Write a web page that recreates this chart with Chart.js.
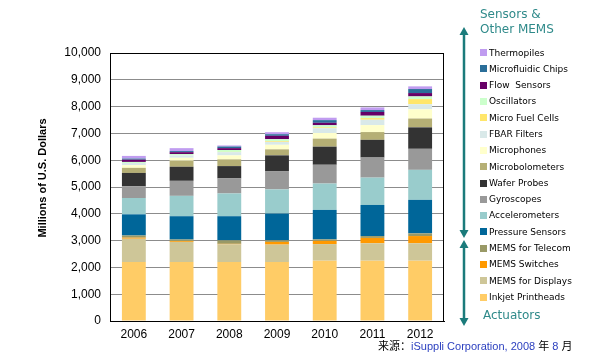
<!DOCTYPE html>
<html>
<head>
<meta charset="utf-8">
<script src="https://cdn.jsdelivr.net/npm/chart.js@4/dist/chart.umd.min.js"></script>
<style>
html,body{margin:0;padding:0;background:#fff;}
#c{display:block;}
</style>
</head>
<body>
<canvas id="c" width="597" height="357"></canvas>
<script>
// ---- data (bottom of stack first) ----
const years = ['2006','2007','2008','2009','2010','2011','2012'];
const yTicks = [0,1000,2000,3000,4000,5000,6000,7000,8000,9000,10000];
const yTitle = 'Millions of U.S. Dollars';

const inkjetPrintheads = [2200,2200,2200,2200,2250,2250,2250];
const memsDisplays     = [870,750,660,650,620,650,650];
const memsSwitches     = [40,30,20,100,120,200,270];
const memsTelecom      = [80,60,130,60,55,70,100];
const pressureSensors  = [790,870,900,1000,1100,1160,1250];
const accelerometers   = [610,760,850,900,985,1020,1120];
const gyroscopes       = [435,560,560,685,700,750,785];
const waferProbes      = [500,525,460,585,675,660,800];
const microbolometers  = [190,225,250,225,300,290,330];
const microphones      = [100,110,150,170,210,260,345];
const fbarFilters      = [80,90,120,110,180,200,190];
const microFuelCells   = [0,0,10,30,30,60,190];
const oscillators      = [40,50,70,70,80,90,100];
const flowSensors      = [85,70,70,125,90,140,125];
const microfluidicChips= [40,40,60,60,100,70,150];
const thermopiles      = [100,110,40,75,90,100,100];

const seriesNames = ['Inkjet Printheads','MEMS for Displays','MEMS Switches','MEMS for Telecom',
  'Pressure Sensors','Accelerometers','Gyroscopes','Wafer Probes','Microbolometers','Microphones',
  'FBAR Filters','Micro Fuel Cells','Oscillators','Flow  Sensors','Microfluidic Chips','Thermopiles'];
const seriesValues = [inkjetPrintheads,memsDisplays,memsSwitches,memsTelecom,pressureSensors,
  accelerometers,gyroscopes,waferProbes,microbolometers,microphones,fbarFilters,microFuelCells,
  oscillators,flowSensors,microfluidicChips,thermopiles];
const seriesColors = ['#FFCC66','#CEC698','#FF9900','#999966','#006699','#99CCCC','#999999',
  '#333333','#B5AF75','#FFFFCC','#D9E9E9','#FFE66B','#CCFFCC','#660066','#2A6E99','#C09CF0'];

const datasets = seriesNames.map((n,i)=>({
  label:n, data:seriesValues[i], backgroundColor:seriesColors[i], borderWidth:0,
  barPercentage:0.5, categoryPercentage:1.0, stack:'s'
}));

const TEAL = '#1B7B7B';

const decor = {
  id:'decor',
  afterDraw(chart){
    const ctx = chart.ctx, a = chart.chartArea;
    ctx.save();
    // plot border
    ctx.strokeStyle = '#000'; ctx.lineWidth = 1;
    ctx.strokeRect(Math.round(a.left)+0.5, Math.round(a.top)+0.5,
      Math.round(a.right-a.left)-1, Math.round(a.bottom-a.top));
    // y axis title
    ctx.save();
    ctx.translate(43, 178);
    ctx.rotate(-Math.PI/2);
    ctx.font = 'bold 11px "Liberation Sans"';
    ctx.fillStyle = '#000'; ctx.textAlign = 'center'; ctx.textBaseline = 'middle';
    ctx.fillText(yTitle, 0, 0);
    ctx.restore();
    // legend
    const ds = chart.data.datasets.slice().reverse();
    ctx.font = '9px "DejaVu Sans"';
    ctx.textBaseline = 'middle'; ctx.textAlign = 'left';
    ds.forEach((d,i)=>{
      const yc = 52.7 + i*16.29;
      ctx.fillStyle = d.backgroundColor;
      ctx.fillRect(480, Math.round(yc-3.5), 7, 7);
      ctx.fillStyle = '#000';
      ctx.fillText(d.label, 489, yc+0.5);
    });
    // group titles
    ctx.fillStyle = '#2F8A8A';
    ctx.font = '12px "DejaVu Sans"';
    ctx.fillText('Sensors &', 480, 15);
    ctx.fillText('Other MEMS', 480, 30);
    ctx.fillText('Actuators', 483, 316);
    // arrows
    ctx.strokeStyle = TEAL; ctx.fillStyle = TEAL; ctx.lineWidth = 2.5;
    const x = 464;
    ctx.beginPath(); ctx.moveTo(x,33); ctx.lineTo(x,233); ctx.stroke();
    ctx.beginPath(); ctx.moveTo(x,245); ctx.lineTo(x,320); ctx.stroke();
    function head(tipY, dir){
      ctx.beginPath();
      ctx.moveTo(x, tipY);
      ctx.lineTo(x-4.5, tipY - dir*8);
      ctx.lineTo(x+4.5, tipY - dir*8);
      ctx.closePath(); ctx.fill();
    }
    head(27,-1); head(238,1); head(240,-1); head(326,1);
    // source
    const parts = [
      ['来源：','#000','11px "Noto Sans CJK SC"'],
      ['iSuppli Corporation, 2008 ','#2B3FBF','11px "Liberation Sans"'],
      ['年','#000','11px "Noto Sans CJK SC"'],
      [' 8 ','#2B3FBF','11px "Liberation Sans"'],
      ['月','#000','11px "Noto Sans CJK SC"']
    ];
    let sx = 378;
    ctx.textBaseline = 'alphabetic';
    parts.forEach(p=>{
      ctx.font = p[2]; ctx.fillStyle = p[1];
      ctx.fillText(p[0], sx, 350);
      sx += ctx.measureText(p[0]).width;
    });
    ctx.restore();
  }
};

new Chart(document.getElementById('c'), {
  type:'bar',
  data:{labels:years, datasets},
  options:{
    responsive:false, animation:false, devicePixelRatio:1,
    layout:{padding:{top:53,right:153,left:0,bottom:0}},
    plugins:{legend:{display:false}, tooltip:{enabled:false}},
    scales:{
      x:{
        stacked:true,
        grid:{display:false, drawTicks:false},
        border:{display:true,color:'#000'},
        ticks:{color:'#000', font:{family:'"Liberation Sans"', size:12}, padding:6},
        afterFit(s){ s.height = 36; }
      },
      y:{
        stacked:true, min:0, max:10000,
        afterBuildTicks(s){ s.ticks = yTicks.map(v=>({value:v})); },
        grid:{color:'#8C8C8C', lineWidth:1, drawTicks:false},
        border:{display:true,color:'#000'},
        ticks:{color:'#000', font:{family:'"Liberation Sans"', size:12}, padding:9,
          callback:(v)=>Number(v).toLocaleString('en-US')},
        title:{display:false},
        afterFit(s){ s.width = 110; }
      }
    }
  },
  plugins:[decor]
});
</script>
</body>
</html>
